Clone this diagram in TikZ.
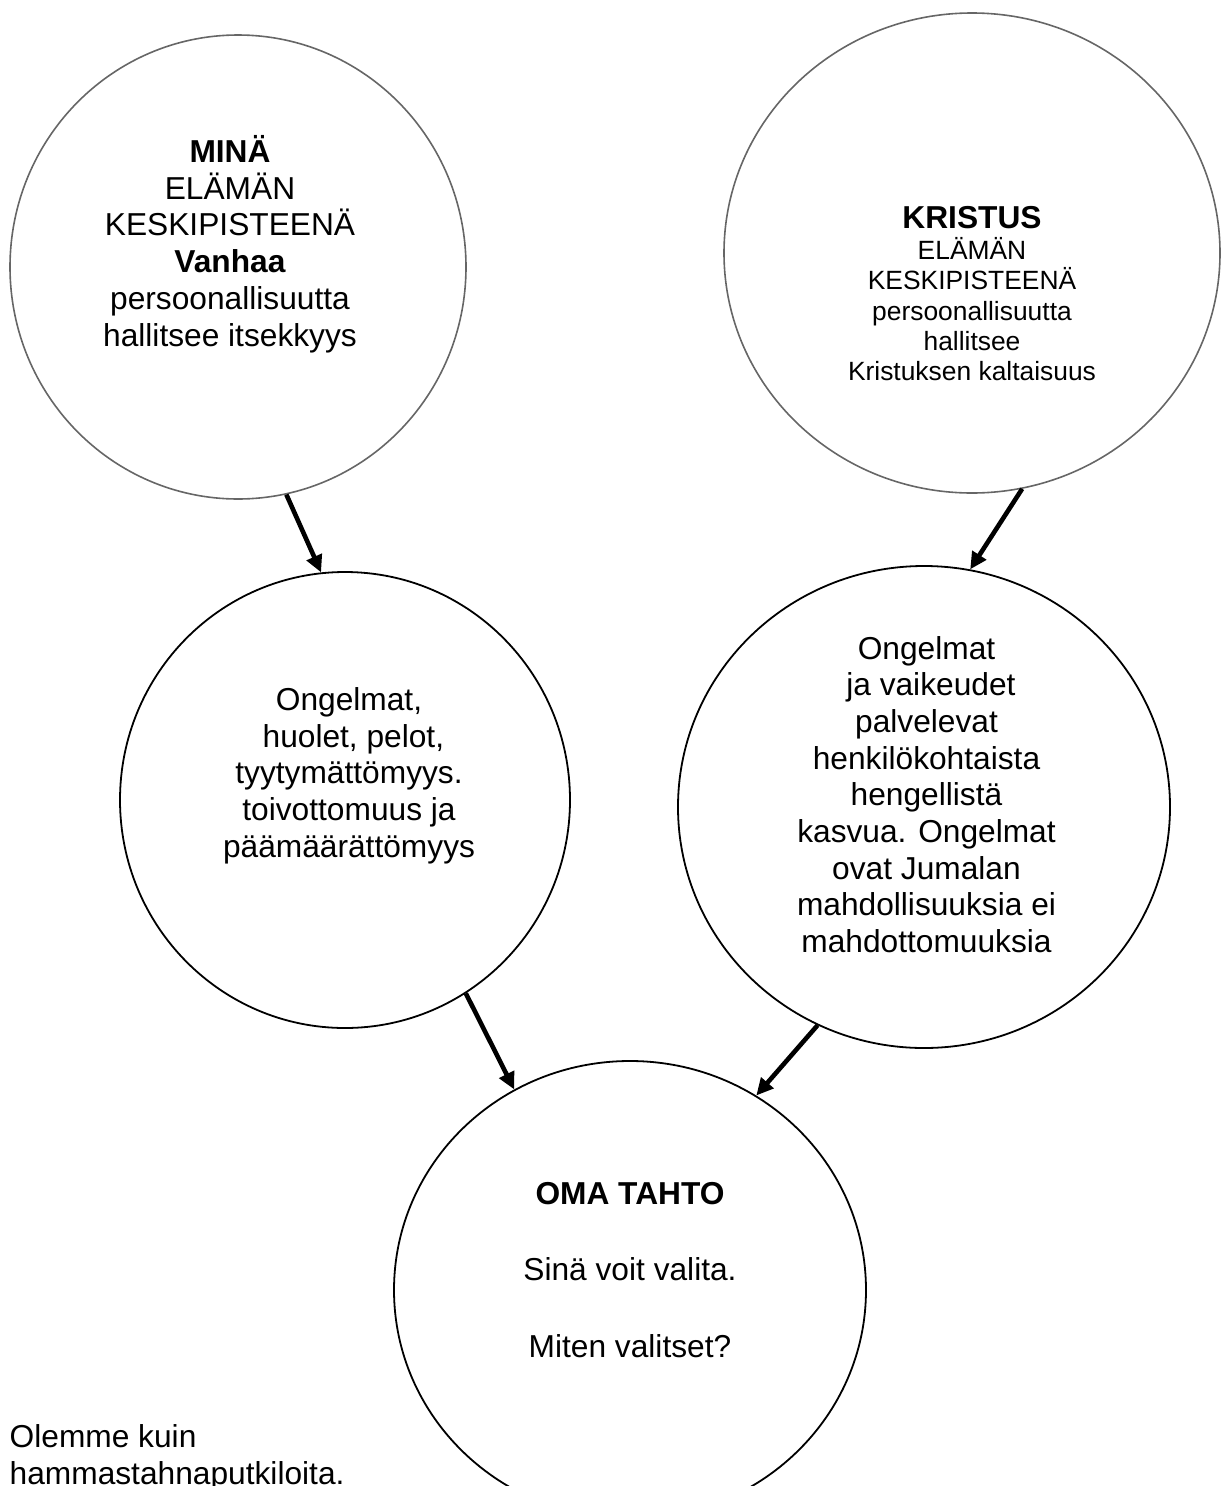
\documentclass[tikz,border=0pt]{standalone}
\usepackage{fontspec}
\setmainfont{Liberation Sans}
\usetikzlibrary{shapes.geometric,arrows.meta}

\begin{document}
\begin{tikzpicture}[x=1pt,y=-1pt,
    ring/.style={ellipse,draw,line width=1.8pt,inner sep=0pt},
    pale/.style={ring,draw=black!60,line width=1.6pt},
    words/.style={align=center,inner sep=0pt,font=\fontsize{31.7}{36.7}\selectfont},
    small/.style={align=center,inner sep=0pt,font=\fontsize{26.4}{30.4}\selectfont},
    push/.style={line width=4.6pt,-{Triangle[length=17pt,width=16pt]}}]
\useasboundingbox (0,0) rectangle (1221,1486);
\clip (0,0) rectangle (1221,1486);

% the two centres of life
\node[pale, minimum width=456pt, minimum height=464pt] (mina) at (238,267) {};
\node[pale, minimum width=496pt, minimum height=480pt] (kristus) at (972,253) {};
\node[words] (minatext) at (230,244)
      {\textbf{MINÄ}\\ ELÄMÄN\\ KESKIPISTEENÄ\\ \textbf{Vanhaa}\\
       persoonallisuutta\\ hallitsee itsekkyys};
\node[small] (kristustext) at (972,294)
      {{\fontsize{31.7}{30.4}\selectfont\bfseries KRISTUS}\\ ELÄMÄN\\ KESKIPISTEENÄ\\
       persoonallisuutta\\ hallitsee\\ Kristuksen kaltaisuus};

% what follows from them
\node[ring, minimum width=450pt, minimum height=456pt] (huolet) at (345,800) {};
\node[ring, minimum width=492pt, minimum height=482pt] (kasvu) at (924,807) {};
\node[words] (huolettext) at (349,775.5)
      {Ongelmat,\\ \ huolet, pelot,\\ tyytymättömyys.\\ toivottomuus ja\\ päämäärättömyys};
\node[words] (kasvutext) at (926.5,794.5)
      {Ongelmat\\ \ ja vaikeudet\\ palvelevat\\ henkilökohtaista\\ hengellistä\\
       kasvua. Ongelmat\\ ovat Jumalan\\ mahdollisuuksia ei\\ mahdottomuuksia};

% the choice
\node[ring, minimum width=472pt, minimum height=458pt] (tahto) at (630,1290) {};
\node[words] (tahtotext) at (630,1270)
      {\textbf{OMA TAHTO}\\[40pt] Sinä voit valita.\\[40pt] Miten valitset?};

\node[words, align=left, anchor=west] (putkilo) at (9.5,1458)
      {Olemme kuin\\ hammastahnaputkiloita.};

\draw[push] (mina.-78.7) -- (huolet.96);
\draw[push] (kristus.-78.9) -- (kasvu.79);
\draw[push] (huolet.-58.1) -- (tahto.120.7);
\draw[push] (kasvu.-116.5) -- (tahto.57.3);

\end{tikzpicture}
\end{document}
